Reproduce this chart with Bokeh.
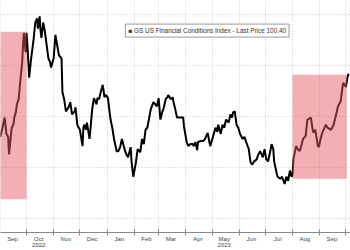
from datetime import datetime, timedelta
import pandas as pd
from bokeh.plotting import figure
from bokeh.models import Range1d, FixedTicker, Label
from bokeh.embed import file_html
from bokeh.resources import INLINE

# ---- data ----
dates = [
    "2022-09-01", "2022-09-03", "2022-09-06", "2022-09-08", "2022-09-10", "2022-09-11", "2022-09-14",
    "2022-09-16", "2022-09-17", "2022-09-19", "2022-09-20", "2022-09-22", "2022-09-24", "2022-09-26",
    "2022-09-27", "2022-09-28", "2022-09-30", "2022-10-01", "2022-10-02", "2022-10-04", "2022-10-06",
    "2022-10-09", "2022-10-11", "2022-10-13", "2022-10-14", "2022-10-16", "2022-10-17", "2022-10-18",
    "2022-10-20", "2022-10-22", "2022-10-24", "2022-10-26", "2022-10-28", "2022-10-29", "2022-11-01",
    "2022-11-03", "2022-11-05", "2022-11-07", "2022-11-10", "2022-11-11", "2022-11-13", "2022-11-15",
    "2022-11-18", "2022-11-20", "2022-11-22", "2022-11-25", "2022-11-26", "2022-11-28", "2022-11-29",
    "2022-12-01", "2022-12-04", "2022-12-05", "2022-12-06", "2022-12-08", "2022-12-09", "2022-12-12",
    "2022-12-13", "2022-12-15", "2022-12-17", "2022-12-20", "2022-12-21", "2022-12-23", "2022-12-24",
    "2022-12-27", "2022-12-28", "2022-12-29", "2022-12-31", "2023-01-02", "2023-01-05", "2023-01-07",
    "2023-01-09", "2023-01-12", "2023-01-14", "2023-01-16", "2023-01-18", "2023-01-21", "2023-01-23",
    "2023-01-25", "2023-01-28", "2023-01-29", "2023-01-31", "2023-02-03", "2023-02-05", "2023-02-07",
    "2023-02-08", "2023-02-10", "2023-02-12", "2023-02-14", "2023-02-16", "2023-02-20", "2023-02-23",
    "2023-02-25", "2023-02-27", "2023-03-01", "2023-03-03", "2023-03-05", "2023-03-07", "2023-03-09",
    "2023-03-11", "2023-03-12", "2023-03-14", "2023-03-16", "2023-03-17", "2023-03-18", "2023-03-20",
    "2023-03-22", "2023-03-26", "2023-03-29", "2023-03-30", "2023-04-02", "2023-04-04", "2023-04-06",
    "2023-04-09", "2023-04-10", "2023-04-12", "2023-04-14", "2023-04-15", "2023-04-18", "2023-04-21",
    "2023-04-23", "2023-04-26", "2023-04-28", "2023-04-29", "2023-05-03", "2023-05-05", "2023-05-07",
    "2023-05-08", "2023-05-11", "2023-05-13", "2023-05-15", "2023-05-17", "2023-05-20", "2023-05-22",
    "2023-05-24", "2023-05-25", "2023-05-27", "2023-05-29", "2023-05-31", "2023-06-02", "2023-06-05",
    "2023-06-07", "2023-06-09", "2023-06-12", "2023-06-14", "2023-06-16", "2023-06-18", "2023-06-21",
    "2023-06-23", "2023-06-25", "2023-06-28", "2023-06-30", "2023-07-02", "2023-07-04", "2023-07-07",
    "2023-07-08", "2023-07-10", "2023-07-11", "2023-07-14", "2023-07-15", "2023-07-18", "2023-07-20",
    "2023-07-23", "2023-07-25", "2023-07-27", "2023-07-29", "2023-07-31", "2023-08-01", "2023-08-02",
    "2023-08-05", "2023-08-07", "2023-08-09", "2023-08-10", "2023-08-13", "2023-08-16", "2023-08-18",
    "2023-08-22", "2023-08-24", "2023-08-25", "2023-08-27", "2023-08-30", "2023-08-31", "2023-09-02",
    "2023-09-04", "2023-09-08", "2023-09-10", "2023-09-14", "2023-09-17", "2023-09-19", "2023-09-22",
    "2023-09-25", "2023-09-27", "2023-09-28", "2023-10-01", "2023-10-03", "2023-10-04",
]
fci = [
    99.80, 99.87, 99.99, 99.83, 99.80, 99.63, 99.89,
    99.92, 99.99, 100.05, 100.12, 100.17, 100.36, 100.53,
    100.70, 100.82, 100.63, 100.82, 100.70, 100.38, 100.55,
    100.75, 100.92, 100.96, 100.86, 100.98, 100.84, 100.77,
    100.92, 100.83, 100.70, 100.57, 100.53, 100.48, 100.57,
    100.80, 100.70, 100.60, 100.57, 100.24, 100.17, 100.05,
    100.09, 100.14, 100.02, 100.05, 100.09, 99.92, 99.90,
    99.87, 99.71, 99.89, 99.92, 99.87, 99.94, 99.78,
    99.87, 100.07, 100.18, 100.12, 100.18, 100.17, 100.21,
    100.31, 100.26, 100.19, 100.21, 100.18, 99.97, 99.89,
    99.78, 99.66, 99.66, 99.70, 99.78, 99.68, 99.63,
    99.60, 99.70, 99.56, 99.41, 99.55, 99.68, 99.66,
    99.65, 99.78, 99.73, 99.87, 99.89, 100.07, 100.14,
    100.12, 100.10, 100.18, 99.97, 100.04, 100.09, 100.17,
    100.19, 100.21, 100.18, 100.17, 100.19, 100.14, 100.07,
    99.99, 99.99, 99.99, 99.90, 99.75, 99.71, 99.73,
    99.73, 99.71, 99.75, 99.67, 99.75, 99.76, 99.76,
    99.78, 99.84, 99.75, 99.71, 99.83, 99.89, 99.85,
    99.92, 99.83, 99.92, 99.89, 99.97, 99.94, 100.02,
    99.99, 100.04, 100.05, 99.92, 99.89, 99.83, 99.78,
    99.80, 99.75, 99.68, 99.55, 99.53, 99.56, 99.58,
    99.63, 99.66, 99.60, 99.68, 99.58, 99.56, 99.68,
    99.73, 99.68, 99.56, 99.44, 99.41, 99.39, 99.41,
    99.34, 99.41, 99.37, 99.47, 99.41, 99.43, 99.58,
    99.71, 99.68, 99.66, 99.68, 99.78, 99.81, 99.97,
    99.99, 99.87, 99.84, 99.87, 99.71, 99.70, 99.78,
    99.84, 99.92, 99.89, 99.87, 99.92, 99.99, 100.10,
    100.15, 100.28, 100.33, 100.29, 100.39, 100.42,
]
# highlighted periods: (start, end, low, high)
band_start = ["2022-08-20", "2023-08-01"]
band_end = ["2022-10-01", "2023-10-02"]
band_low = [99.19, 99.39]
band_high = [100.83, 100.41]

month_starts = ["2022-09-01", "2022-10-01", "2022-11-01", "2022-12-01", "2023-01-01", "2023-02-01",
                "2023-03-01", "2023-04-01", "2023-05-01", "2023-06-01", "2023-07-01", "2023-08-01",
                "2023-09-01", "2023-10-01"]
label_dates = ["2022-09-15", "2022-10-15", "2022-11-15", "2022-12-15", "2023-01-15", "2023-02-15",
               "2023-03-15", "2023-04-15", "2023-05-15", "2023-06-15", "2023-07-15", "2023-08-15",
               "2023-09-15"]
tick_labels = ["Sep", "Oct\n2022", "Nov", "Dec", "Jan", "Feb", "Mar", "Apr", "May\n2023", "Jun", "Jul",
               "Aug", "Sep"]
y_grid = [99.0, 99.5, 100.0, 100.5, 101.0]
legend_text = "\u25A0 GS US Financial Conditions Index - Last Price 100.40"


def ms(s):
    return pd.Timestamp(s).value / 1e6


x_start = datetime(2022, 9, 1, 6)
p = figure(width=350, height=250, x_axis_type="datetime", output_backend="svg",
           toolbar_location=None,
           x_range=Range1d(x_start, x_start + timedelta(days=400)),
           y_range=Range1d(98.864, 101.136),
           min_border_left=0, min_border_right=0, min_border_top=0, min_border_bottom=0)
p.outline_line_color = None
p.background_fill_color = "white"
p.border_fill_color = "white"

p.line(pd.to_datetime(dates), fci, line_color="black", line_width=2)

p.quad(left=pd.to_datetime(band_start), right=pd.to_datetime(band_end), bottom=band_low, top=band_high,
       fill_color="#e35862", fill_alpha=0.48, line_color=None)

p.yaxis.visible = False
p.ygrid.ticker = FixedTicker(ticks=y_grid)
p.xgrid.ticker = FixedTicker(ticks=[ms(d) for d in month_starts])
for g in (p.xgrid, p.ygrid):
    g.grid_line_color = "#c8c8c8"
    g.grid_line_dash = "1 2"
    g.grid_line_width = 1

ax = p.xaxis[0]
ax.ticker = FixedTicker(ticks=[ms(d) for d in label_dates], minor_ticks=[ms(d) for d in month_starts])
ax.major_label_overrides = {ms(d): t for d, t in zip(label_dates, tick_labels)}
ax.major_tick_line_color = None
ax.major_tick_in = 0
ax.major_tick_out = 0
ax.minor_tick_line_color = "#888888"
ax.minor_tick_in = 3
ax.minor_tick_out = 3
ax.axis_line_color = "#888888"
ax.major_label_text_font = "Liberation Sans"
ax.major_label_text_font_size = "6px"
ax.major_label_text_color = "#444444"
ax.major_label_standoff = 0
ax.major_label_text_line_height = 1.0

lab = Label(x=ms("2023-01-22"), y=100.905, text=legend_text, anchor="top_left",
            text_font="Liberation Sans", text_font_size="6.4px", text_color="#333333",
            background_fill_color="white", border_line_color="#999999", border_line_width=1,
            padding=3)
p.add_layout(lab)

open("out.html", "w").write(file_html(p, INLINE))
